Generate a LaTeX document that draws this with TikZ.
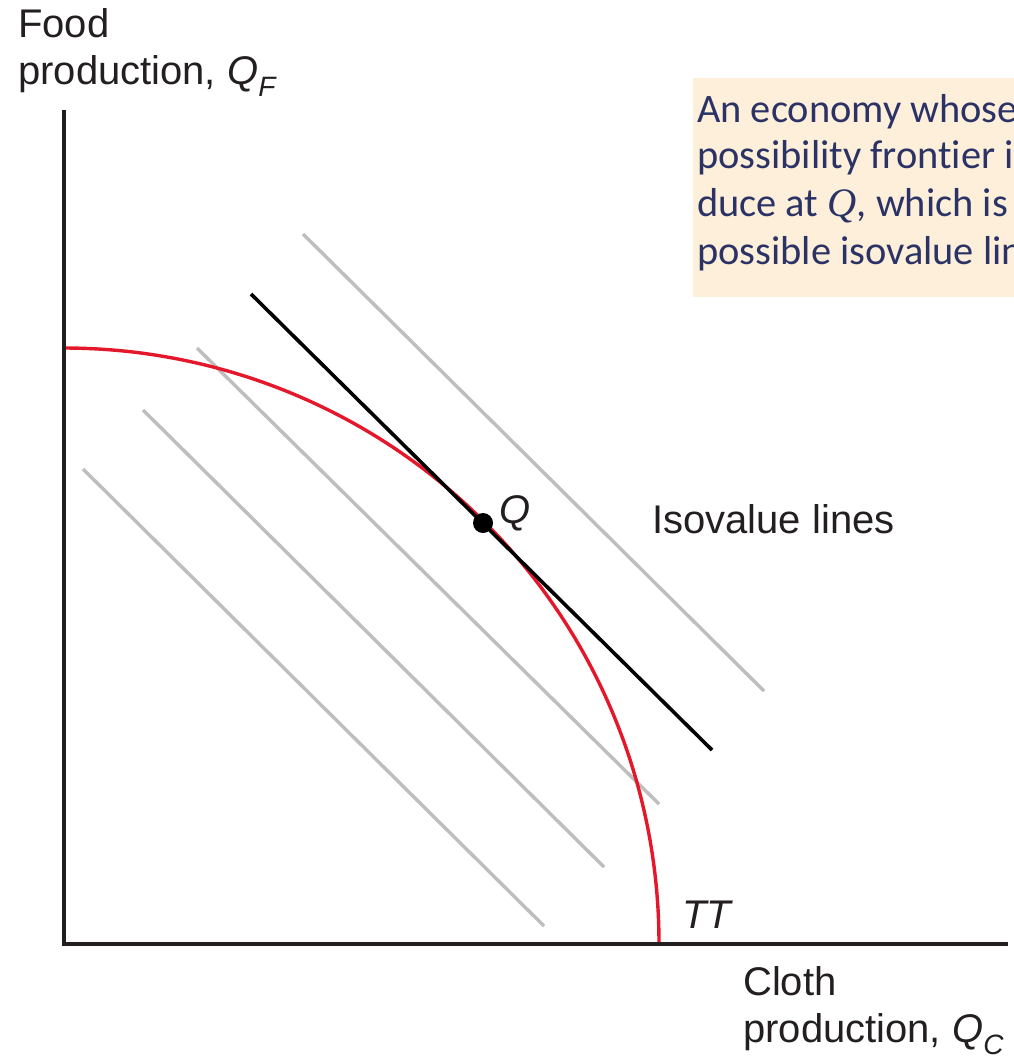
\documentclass[tikz,border=0pt]{standalone}
\usepackage{fontspec}
\setmainfont{Liberation Sans}
\newfontfamily\boxfont[Ligatures={NoCommon}]{Carlito}
\newfontfamily\boxserif{Liberation Serif}
\definecolor{axiscol}{HTML}{231F20}
\definecolor{ttred}{HTML}{E5182B}
\definecolor{isogray}{HTML}{BEBEBE}
\definecolor{boxfill}{HTML}{FDEFD9}
\definecolor{boxtext}{HTML}{2B3366}
\tikzset{
  lbl/.style={anchor=base west, inner sep=0pt, text=axiscol, font=\fontsize{40}{48}\selectfont},
  boxline/.style={anchor=base west, inner sep=0pt, text=boxtext, font=\boxfont\fontsize{40.4}{48}\selectfont},
  axisline/.style={draw=axiscol, line width=4pt},
  isoline/.style={draw=isogray, line width=3.4pt},
  tangent/.style={draw=black, line width=3.6pt},
  frontier/.style={draw=ttred, line width=3.4pt}
}
\newcommand{\subit}[1]{\raisebox{-0.3em}{\fontsize{28}{28}\selectfont\itshape #1}}
\begin{document}
\begin{tikzpicture}[x=1pt, y=-1pt]
\useasboundingbox (0,0) rectangle (1014,1060);
\clip (0,0) rectangle (1014,1060);
\fill[white] (0,0) rectangle (1014,1060);
% info box
\fill[boxfill] (693,78) rectangle (1030,297);
\node[boxline] (b1) at (697,122) {An economy whose};
\node[boxline] (b2) at (697,168) {possibility frontier is};
\node[boxline] (b3) at (697,216) {duce at {\boxserif\itshape Q}, which is};
\node[boxline] (b4) at (697,264) {possible isovalue line};
% isovalue lines
\coordinate (g1a) at (303,234); \coordinate (g1b) at (764,691);
\coordinate (g2a) at (197,348); \coordinate (g2b) at (659,804);
\coordinate (g3a) at (143,410); \coordinate (g3b) at (604,867);
\coordinate (g4a) at (83,469);  \coordinate (g4b) at (544,926);
\draw[isoline] (g1a) -- (g1b);
\draw[isoline] (g2a) -- (g2b);
\draw[isoline] (g3a) -- (g3b);
\draw[isoline] (g4a) -- (g4b);
% frontier TT (quarter circle)
\draw[frontier] plot[domain=0:90, samples=90, smooth] ({64+595*sin(\x)}, {943-595*cos(\x)});
% tangent isovalue line
\coordinate (ta) at (251,294); \coordinate (tb) at (712,750);
\draw[tangent] (ta) -- (tb);
% axes
\coordinate (origin) at (64,944);
\coordinate (ytop) at (64,110);
\coordinate (xend) at (1008,944);
\draw[axisline] (ytop) -- (origin) -- (xend);
% point Q
\fill[black] (483,523) circle (10);
\node[lbl, font=\fontsize{40}{48}\selectfont\itshape] (qlab) at (499,523) {Q};
% labels
\node[lbl] (food1) at (18,37) {Food};
\node[lbl] (food2) at (18,84) {production, \textit{Q}\subit{F}};
\node[lbl] (cloth1) at (743,995) {Cloth};
\node[lbl] (cloth2) at (743,1042) {production, \textit{Q}\subit{C}};
\node[lbl] (iso) at (652,533) {Isovalue lines};
\node[lbl, font=\fontsize{40}{48}\selectfont\itshape] (tt) at (682,928) {TT};
\end{tikzpicture}
\end{document}
